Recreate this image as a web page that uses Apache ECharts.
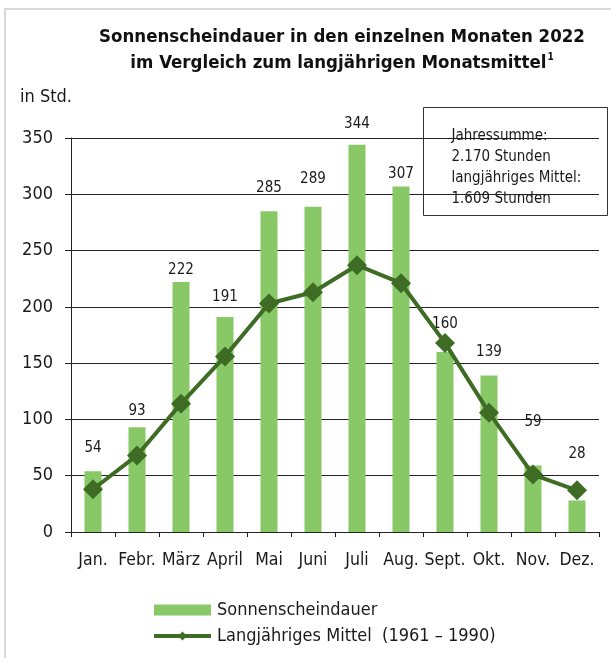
<!DOCTYPE html>
<html>
<head>
<meta charset="utf-8">
<script src="https://cdn.jsdelivr.net/npm/echarts@6/dist/echarts.min.js"></script>
<style>
  html, body { margin: 0; padding: 0; background: #fff; }
  #chart { width: 611px; height: 658px; }
</style>
</head>
<body>
<div id="chart"></div>
<script>
// data
const months = ['Jan.', 'Febr.', 'März', 'April', 'Mai', 'Juni', 'Juli', 'Aug.', 'Sept.', 'Okt.', 'Nov.', 'Dez.']
const sunshine2022 = [54, 93, 222, 191, 285, 289, 344, 307, 160, 139, 59, 28]
const longTermMean = [38, 68, 114, 156, 203, 213, 237, 221, 168, 106, 51, 37]
const yTicks = [0, 50, 100, 150, 200, 250, 300, 350]
// gap between bar top and its value label (keeps labels clear of the line)
const labelDist = [16, 9, 4, 12, 16, 20, 13, 5, 20, 16, 36, 39]

const FONT = '"Liberation Sans Narrow", "DejaVu Sans Condensed", "Roboto Condensed", "Liberation Sans", sans-serif'
const BAR_COLOR = '#88c866'
const LINE_COLOR = '#3e6c24'

const myChart = echarts.init(document.getElementById('chart'))
const option = {
  animation: false,
  textStyle: { fontFamily: FONT },
  title: {
    left: 342,
    top: 24,
    textAlign: 'center',
    padding: 0,
    text: '{t|Sonnenscheindauer in den einzelnen Monaten 2022}\n{t|im Vergleich zum langjährigen Monatsmittel}{s|1}',
    textStyle: {
      rich: {
        t: { fontFamily: FONT, fontSize: 18.5, fontWeight: 'bold', color: '#111', lineHeight: 26 },
        s: { fontFamily: FONT, fontSize: 10, color: '#111', lineHeight: 26, padding: [0, 0, 12, 1] }
      }
    }
  },
  grid: { left: 71, right: 12, top: 138, bottom: 126 },
  legend: {
    orient: 'vertical',
    left: 152,
    top: 601,
    padding: 0,
    itemGap: 8,
    itemWidth: 57,
    itemHeight: 11,
    textStyle: { fontFamily: FONT, fontSize: 18, color: '#1a1a1a', padding: [0, 0, 0, 1] },
    data: [
      { name: 'Sonnenscheindauer', icon: 'rect' },
      { name: 'Langjähriges Mittel  (1961 – 1990)', lineStyle: { width: 4 } }
    ]
  },
  xAxis: {
    type: 'category',
    data: months,
    boundaryGap: true,
    axisLine: { lineStyle: { color: '#222', width: 1 } },
    axisTick: { show: true, length: 5, lineStyle: { color: '#222' } },
    axisLabel: { fontFamily: FONT, fontSize: 17.5, color: '#1a1a1a', margin: 19, interval: 0 }
  },
  yAxis: {
    type: 'value',
    min: yTicks[0],
    max: yTicks[yTicks.length - 1],
    interval: 50,
    axisLine: { show: true, lineStyle: { color: '#222', width: 1 } },
    axisTick: { show: true, length: 6, lineStyle: { color: '#222' } },
    axisLabel: { fontFamily: FONT, fontSize: 18, color: '#1a1a1a', margin: 18 },
    splitLine: { lineStyle: { color: '#222', width: 1 } }
  },
  series: [
    {
      name: 'Sonnenscheindauer',
      type: 'bar',
      barWidth: 17,
      itemStyle: { color: BAR_COLOR },
      data: sunshine2022.map((v, i) => ({
        value: v,
        label: {
          show: true,
          position: 'top',
          distance: labelDist[i],
          fontFamily: FONT,
          fontSize: 15,
          color: '#1a1a1a'
        }
      }))
    },
    {
      name: 'Langjähriges Mittel  (1961 – 1990)',
      type: 'line',
      data: longTermMean,
      symbol: 'diamond',
      symbolSize: 20,
      itemStyle: { color: LINE_COLOR },
      lineStyle: { color: LINE_COLOR, width: 4 },
      z: 5
    }
  ],
  graphic: [
    // light frame on the top and left edge
    {
      type: 'polyline',
      shape: { points: [[5, 658], [5, 9], [611, 9]] },
      style: { stroke: '#d9d9d9', lineWidth: 2, fill: null }
    },
    {
      type: 'text',
      left: 20,
      top: 88,
      style: { text: 'in Std.', fontFamily: FONT, fontSize: 18, fill: '#1a1a1a' }
    },
    {
      type: 'group',
      left: 423,
      top: 107,
      z: 10,
      children: [
        {
          type: 'rect',
          shape: { x: 0, y: 0, width: 184, height: 108 },
          style: { fill: '#fff', stroke: '#333', lineWidth: 1 }
        },
        {
          type: 'text',
          x: 28,
          y: 18,
          style: {
            text: 'Jahressumme:\n2.170 Stunden\nlangjähriges Mittel:\n1.609 Stunden',
            fontFamily: FONT,
            fontSize: 15,
            lineHeight: 21,
            fill: '#1a1a1a'
          }
        }
      ]
    }
  ]
}
myChart.setOption(option, true)
</script>
</body>
</html>
